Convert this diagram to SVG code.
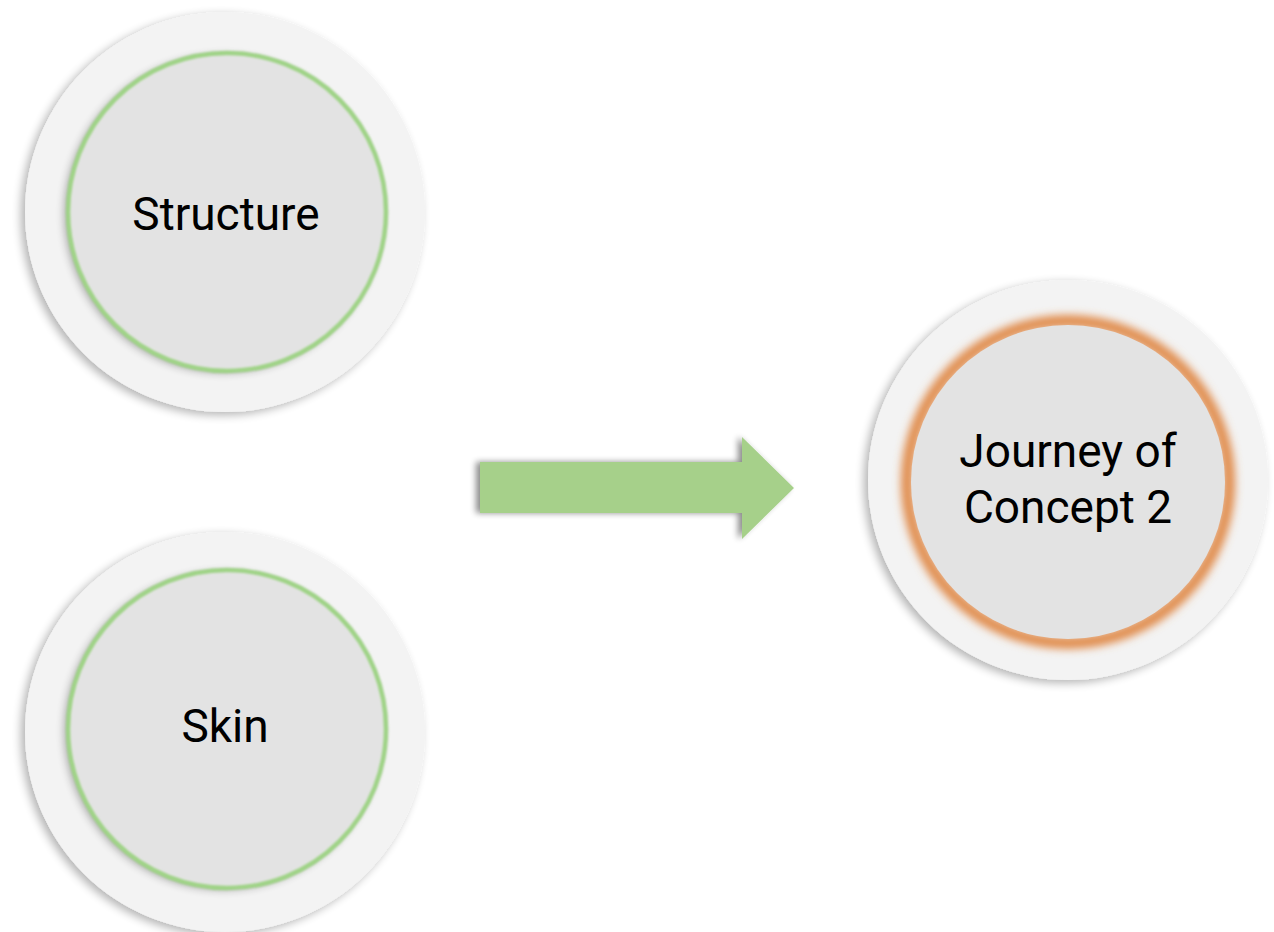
<svg xmlns="http://www.w3.org/2000/svg" width="1274" height="932" viewBox="0 0 1274 932">
<defs>
<filter id="outerShadow" x="-20%" y="-20%" width="140%" height="140%">
<feGaussianBlur in="SourceAlpha" stdDeviation="5"/>
<feOffset dx="-4" dy="3" result="b"/>
<feComponentTransfer><feFuncA type="linear" slope="0.3"/></feComponentTransfer>
<feMerge><feMergeNode/><feMergeNode in="SourceGraphic"/></feMerge>
</filter>
<filter id="innerShadow" x="-20%" y="-20%" width="140%" height="140%">
<feGaussianBlur in="SourceAlpha" stdDeviation="4"/>
<feOffset dx="-4" dy="2"/>
<feComponentTransfer><feFuncA type="linear" slope="0.3"/></feComponentTransfer>
<feMerge><feMergeNode/><feMergeNode in="SourceGraphic"/></feMerge>
</filter>
<filter id="glowG" x="-20%" y="-20%" width="140%" height="140%">
<feGaussianBlur stdDeviation="1.3"/>
</filter>
<filter id="glowO" x="-20%" y="-20%" width="140%" height="140%">
<feGaussianBlur stdDeviation="4"/>
</filter>
<filter id="arrowShadow" x="-10%" y="-30%" width="120%" height="160%">
<feGaussianBlur in="SourceAlpha" stdDeviation="3"/>
<feOffset dx="-4" dy="0"/>
<feComponentTransfer><feFuncA type="linear" slope="0.45"/></feComponentTransfer>
<feMerge><feMergeNode/><feMergeNode in="SourceGraphic"/></feMerge>
</filter>
</defs>
<style>
.outer{fill:#f3f3f3;}
.inner{fill:#e3e3e3;}
.ringG{fill:none;stroke:#9fd386;stroke-width:4.5;}
.ringO{fill:none;stroke:#e08a4a;stroke-width:12;}
.label{font-family:Roboto,"Liberation Sans",sans-serif;font-size:46px;fill:#000;text-anchor:middle;}
</style>
<rect width="1274" height="932" fill="#ffffff"/>
<g id="connectors">
<path d="M480,462 L742,462 L742,437 L794,488 L742,539 L742,513 L480,513 Z" fill="#a6d08a" filter="url(#arrowShadow)"/>
</g>
<g id="node-structure">
<circle class="outer" cx="225" cy="212" r="200" filter="url(#outerShadow)"/>
<circle class="inner" cx="227" cy="212" r="159" filter="url(#innerShadow)"/>
<circle class="ringG" cx="227" cy="212" r="159" filter="url(#glowG)"/>
<text class="label" x="226" y="230">Structure</text>
</g>
<g id="node-skin">
<circle class="outer" cx="225" cy="732" r="200" filter="url(#outerShadow)"/>
<circle class="inner" cx="227" cy="729" r="159" filter="url(#innerShadow)"/>
<circle class="ringG" cx="227" cy="729" r="159" filter="url(#glowG)"/>
<text class="label" x="225" y="742">Skin</text>
</g>
<g id="node-journey">
<circle class="outer" cx="1068" cy="480" r="200" filter="url(#outerShadow)"/>
<circle class="ringO" cx="1068" cy="482" r="161" filter="url(#glowO)"/>
<circle class="inner" cx="1068" cy="482" r="157"/>
<text class="label" x="1068" y="467">Journey of</text>
<text class="label" x="1068" y="523">Concept 2</text>
</g>
</svg>
